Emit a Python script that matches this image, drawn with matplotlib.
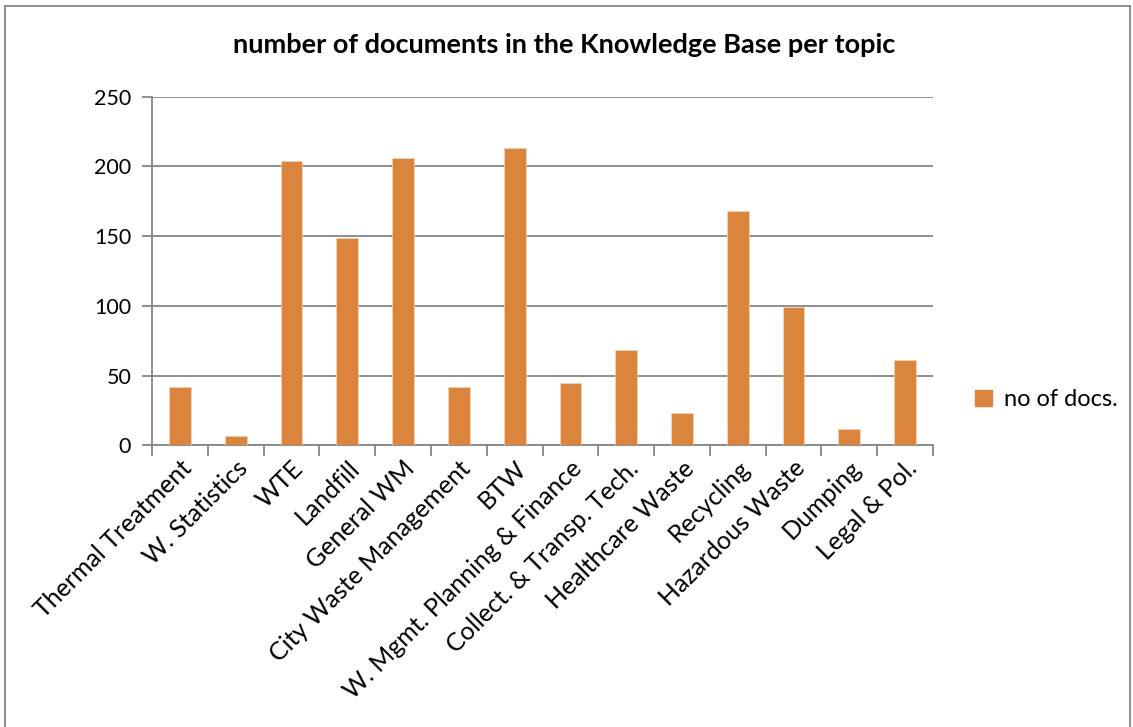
import matplotlib
matplotlib.use("Agg")
import matplotlib.pyplot as plt
from matplotlib.lines import Line2D
from matplotlib.patches import Patch

categories = ["Thermal Treatment", "W. Statistics", "WTE", "Landfill", "General WM",
              "City Waste Management", "BTW", "W. Mgmt. Planning & Finance",
              "Collect. & Transp. Tech.", "Healthcare Waste", "Recycling",
              "Hazardous Waste", "Dumping", "Legal & Pol."]
values = [42, 7, 204, 149, 206, 42, 213, 45, 68, 23, 168, 99, 12, 61]
yticks = [0, 50, 100, 150, 200, 250]

plt.rcParams['font.family'] = ['Lato', 'DejaVu Sans']
bar_color = "#DB843D"
grid_color = "#868686"

fig = plt.figure(figsize=(11.33, 7.27), dpi=100)
ax = fig.add_axes([0.1342, 0.3875, 0.6893, 0.4795])

x = list(range(len(categories)))
ax.bar(x, values, width=0.39, color=bar_color, edgecolor="#F3D2B5", linewidth=0.6, zorder=3,
       label="no of docs.")
ax.set_xlim(-0.5, len(categories) - 0.5)
ax.set_ylim(0, 250)
ax.set_yticks(yticks)
ax.set_yticklabels([str(v) for v in yticks], fontsize=15.5)
ax.yaxis.grid(True, color=grid_color, linewidth=1.3, zorder=0)

ax.set_xticks([i + 0.5 for i in range(-1, len(categories))], minor=False)
ax.set_xticklabels([])
ax.tick_params(axis='x', direction='out', length=8, width=1.3, color=grid_color)
ax.tick_params(axis='y', direction='out', length=7, width=1.3, color=grid_color, pad=8)
ax.set_xticks(x, minor=True)
ax.set_xticklabels(categories, minor=True, rotation=45, ha='right', rotation_mode='anchor',
                   fontsize=18)
ax.tick_params(axis='x', which='minor', length=0, pad=8)

for s in ['top', 'right']:
    ax.spines[s].set_visible(False)
for s in ['left', 'bottom']:
    ax.spines[s].set_color(grid_color)
    ax.spines[s].set_linewidth(1.3)

fig.text(0.498, 0.938, "number of documents in the Knowledge Base per topic",
         ha='center', va='center', fontsize=19.5, fontweight='bold')

handles = [Patch(facecolor=bar_color, edgecolor=bar_color)]
fig.legend(handles, ["no of docs."], loc='center left', bbox_to_anchor=(0.842, 0.45),
           frameon=False, fontsize=17, handlelength=0.7, handleheight=0.7, handletextpad=0.5)

# outer chart border
fig.add_artist(Line2D([0.004, 0.004], [0.0, 0.992], transform=fig.transFigure,
                      color=grid_color, linewidth=1.3))
fig.add_artist(Line2D([0.004, 0.997], [0.992, 0.992], transform=fig.transFigure,
                      color=grid_color, linewidth=1.3))
fig.add_artist(Line2D([0.997, 0.997], [0.0, 0.992], transform=fig.transFigure,
                      color=grid_color, linewidth=1.3))

fig.savefig("out.png", dpi=100)
